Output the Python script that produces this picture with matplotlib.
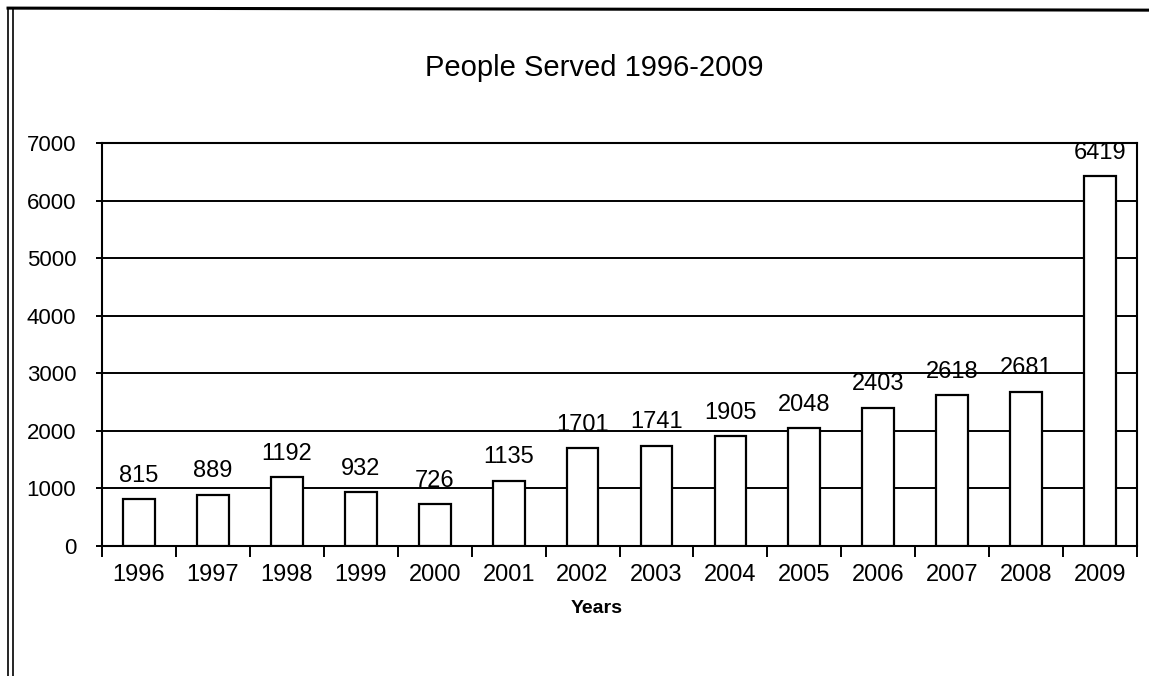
import matplotlib.pyplot as plt
from matplotlib.lines import Line2D

plt.rcParams['font.family'] = ['Liberation Sans', 'DejaVu Sans']

years = ['1996', '1997', '1998', '1999', '2000', '2001', '2002',
         '2003', '2004', '2005', '2006', '2007', '2008', '2009']
people = [815, 889, 1192, 932, 726, 1135, 1701,
          1741, 1905, 2048, 2403, 2618, 2681, 6419]
yticks = [0, 1000, 2000, 3000, 4000, 5000, 6000, 7000]

fig = plt.figure(figsize=(11.49, 6.76), dpi=100)
ax = fig.add_axes([0.0888, 0.1923, 0.9008, 0.5962])

x = list(range(len(years)))
ax.bar(x, people, width=0.43, color='white', edgecolor='black', linewidth=1.6, zorder=3)

for xi, v in zip(x, people):
    ax.annotate(str(v), (xi, v), xytext=(0, 9), textcoords='offset points',
                ha='center', va='bottom', fontsize=17, zorder=4)

ax.set_xlim(-0.5, len(years) - 0.5)
ax.set_ylim(0, 7000)
ax.set_yticks(yticks)
ax.set_yticklabels([str(t) for t in yticks], fontsize=16)
ax.yaxis.grid(True, color='black', linewidth=1.4)
ax.set_axisbelow(True)

# category labels centred, tick marks on the boundaries
ax.set_xticks(x)
ax.set_xticklabels(years, fontsize=17)
ax.tick_params(axis='x', length=0, pad=13)
ax.set_xticks([i - 0.5 for i in range(len(years) + 1)], minor=True)
ax.tick_params(axis='x', which='minor', length=8, width=1.4, direction='out')
ax.tick_params(axis='y', length=4.5, width=1.4, pad=14)

for s in ['left', 'right', 'bottom', 'top']:
    ax.spines[s].set_color('black')
    ax.spines[s].set_linewidth(1.5)

ax.set_xlabel('Years', fontsize=14, fontweight='bold')
ax.xaxis.set_label_coords(0.478, -0.135)
fig.text(0.517, 0.9, 'People Served 1996-2009', ha='center', va='center', fontsize=21)

# scanned page frame
fig.add_artist(Line2D([0.007, 0.007], [0.0, 0.988], transform=fig.transFigure, color='black', lw=1.2))
fig.add_artist(Line2D([0.011, 0.011], [0.0, 0.988], transform=fig.transFigure, color='black', lw=1.2))
fig.add_artist(Line2D([0.007, 1.0], [0.988, 0.985], transform=fig.transFigure, color='black', lw=2.2))

fig.savefig('out.png', dpi=100)
